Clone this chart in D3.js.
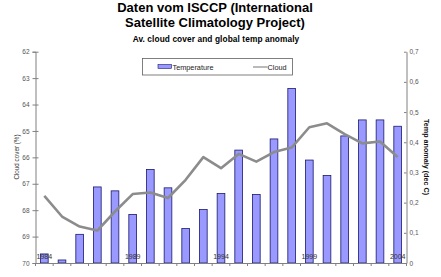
<!DOCTYPE html>
<html><head><meta charset="utf-8">
<script src="https://cdn.jsdelivr.net/npm/d3@7"></script>
<style>
html,body{margin:0;padding:0;background:#fff;}
svg{display:block;font-family:"Liberation Sans",Arial,sans-serif;}
</style></head>
<body>
<svg id="c" width="441" height="277"></svg>
<script>
const years = d3.range(1984, 2005).map(String);
const yearLabels = ["1984","1989","1994","1999","2004"];
const temperature = [0.03,0.01,0.095,0.252,0.239,0.161,0.31,0.249,0.114,0.177,0.23,0.374,0.227,0.411,0.578,0.341,0.29,0.421,0.474,0.474,0.453];
const cloud = [67.46,68.24,68.62,68.77,68.05,67.39,67.33,67.54,66.85,65.99,66.41,65.87,66.16,65.80,65.63,64.86,64.71,65.12,65.47,65.40,65.99];
const leftTicks = [62,63,64,65,66,67,68,69,70];
const rightTicks = [0,0.1,0.2,0.3,0.4,0.5,0.6,0.7];
const rightTickLabels = ["0","0,1","0,2","0,3","0,4","0,5","0,6","0,7"];
const titleLines = ["Daten vom ISCCP (International","Satellite Climatology Project)"];
const subtitle = "Av. cloud cover and global temp anomaly";

const svg = d3.select("#c");
const L = 35.5, R = 406.5, T = 51.7, B = 263;
const x = d3.scaleBand().domain(years).range([L, R]).paddingInner(0.565).paddingOuter(0.2825);
const band = d3.scaleBand().domain(years).range([L, R]);
const yL = d3.scaleLinear().domain([62,70]).range([T, B]);
const yR = d3.scaleLinear().domain([0,0.7]).range([B, T]);

// titles
svg.append("g").selectAll("text").data(titleLines).join("text")
  .attr("x", 215).attr("y", (d,i)=> 11.9 + i*14.6)
  .attr("text-anchor","middle").attr("font-size","13px").attr("font-weight","bold").attr("fill","#000")
  .text(d=>d);
svg.append("text").attr("x",216).attr("y",41.8).attr("text-anchor","middle")
  .attr("font-size","8.3px").attr("font-weight","bold").attr("letter-spacing","0.1px").attr("fill","#000").text(subtitle);

// bars
svg.append("g").selectAll("rect").data(temperature).join("rect")
  .attr("x",(d,i)=>x(years[i])).attr("width",x.bandwidth())
  .attr("y",d=>yR(d)).attr("height",d=>B-yR(d))
  .attr("fill","#9999FF").attr("stroke","#1a1a6e").attr("stroke-width",0.8);

// cloud line
const line = d3.line().x((d,i)=>band(years[i])+band.bandwidth()/2).y(d=>yL(d));
svg.append("path").datum(cloud).attr("d",line).attr("fill","none")
  .attr("stroke","#8c8c8c").attr("stroke-width",2.6).attr("stroke-linejoin","round");

// left axis
const gL = svg.append("g").attr("transform",`translate(${L},0)`)
  .call(d3.axisLeft(yL).tickValues(leftTicks).tickSize(3).tickFormat(d3.format("d")));
gL.selectAll(".tick line").attr("x2",-3).attr("x1",3);
// right axis
const gR = svg.append("g").attr("transform",`translate(${R},0)`)
  .call(d3.axisRight(yR).tickValues(rightTicks).tickSize(0).tickPadding(3).tickFormat((d,i)=>rightTickLabels[i]));
gR.selectAll(".tick line").attr("x1",-2.5).attr("x2",0);
// bottom axis
const gB = svg.append("g").attr("transform",`translate(0,${B})`)
  .call(d3.axisBottom(band).tickValues([]).tickSize(0));
gB.selectAll(".bt").data(years.concat(["end"])).join("line").attr("class","bt")
  .attr("x1",(d,i)=> i<years.length ? band(d) : R).attr("x2",(d,i)=> i<years.length ? band(d) : R)
  .attr("y1",0).attr("y2",3).attr("stroke","#808080");

[gL,gR,gB].forEach(g=>{
  g.select(".domain").attr("stroke","#808080").attr("stroke-width",1);
  g.selectAll(".tick line").attr("stroke","#808080");
  g.selectAll(".tick text").attr("font-size","6.5px").attr("fill","#555").attr("font-family","Liberation Sans, Arial, sans-serif");
});
gL.selectAll(".tick text").attr("x",-6);
gR.selectAll(".tick text").attr("x",3);

// year labels inside plot
svg.append("g").selectAll("text").data(yearLabels).join("text")
  .attr("x",d=>band(d)+band.bandwidth()/2).attr("y",259)
  .attr("text-anchor","middle").attr("font-size","7px").attr("fill","#333").text(d=>d);

// axis titles
svg.append("text").attr("transform","translate(18.5,157) rotate(-90)").attr("text-anchor","middle")
  .attr("font-size","6.3px").attr("fill","#333").text("Cloud cover (%)");
svg.append("text").attr("transform","translate(424,157) rotate(90)").attr("text-anchor","middle")
  .attr("font-size","7.2px").attr("font-weight","bold").attr("fill","#111").text("Temp anomaly (dec C)");

// legend
const lg = svg.append("g");
lg.append("rect").attr("x",142.5).attr("y",58.5).attr("width",150).attr("height",16.5)
  .attr("fill","#fff").attr("stroke","#606060").attr("stroke-width",0.8);
lg.append("rect").attr("x",158).attr("y",64.5).attr("width",13.5).attr("height",4)
  .attr("fill","#9999FF").attr("stroke","#1a1a6e").attr("stroke-width",0.6);
lg.append("text").attr("x",172.5).attr("y",69.5).attr("font-size","7.3px").attr("fill","#222").text("Temperature");
lg.append("line").attr("x1",253).attr("x2",267.5).attr("y1",67).attr("y2",67).attr("stroke","#8c8c8c").attr("stroke-width",1.2);
lg.append("text").attr("x",267.5).attr("y",69.5).attr("font-size","7.3px").attr("fill","#222").text("Cloud");
</script>
</body></html>
